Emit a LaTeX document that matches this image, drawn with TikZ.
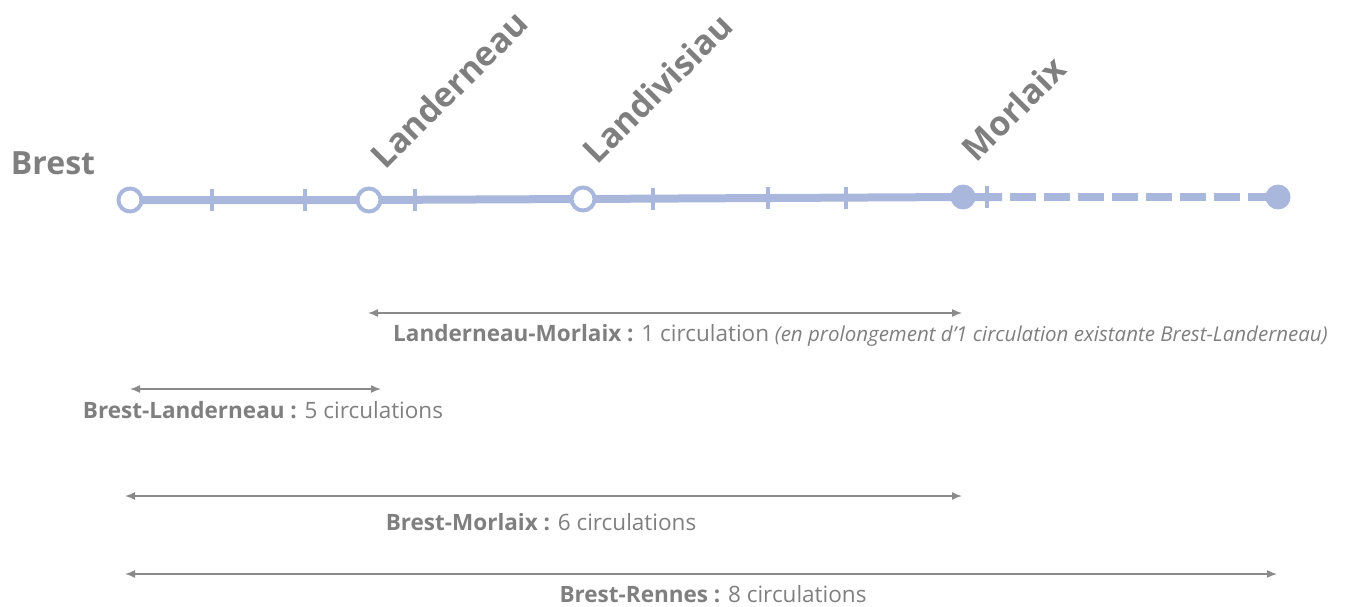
\documentclass[tikz,border=0pt]{standalone}
\usepackage{fontspec}
\setmainfont{Open Sans}
\usepackage{xcolor}
\usetikzlibrary{arrows.meta,backgrounds,positioning}
\definecolor{lineblue}{HTML}{A9B7DD}
\definecolor{txtgray}{HTML}{7F7F7F}
\definecolor{arrgray}{HTML}{8A8A8A}
\tikzset{>=Latex}

\begin{document}
\begin{tikzpicture}[x=1pt,y=-1pt,
openstation/.style={circle, draw=lineblue, fill=white, line width=4pt, minimum size=23pt, inner sep=0pt},
fullstation/.style={circle, fill=lineblue, minimum size=25pt, inner sep=0pt},
stationname/.style={text=txtgray, font=\bfseries\fontsize{34}{38}\selectfont, rotate=45, anchor=south west, inner sep=0pt},
track/.style={draw=lineblue, line width=8pt},
tick/.style={draw=lineblue, line width=4pt},
span/.style={draw=arrgray, line width=1.5pt, {Latex[length=10pt,width=8pt]}-{Latex[length=10pt,width=8pt]}},
spanlabel/.style={text=txtgray, font=\fontsize{22.5}{26}\selectfont, inner sep=0pt},
]
\useasboundingbox (0,0) rectangle (1349,607);

%Nodes
\node[openstation](Brest) at (130,200){};
\node[openstation](Landerneau) at (369,200){};
\node[openstation](Landivisiau) at (583,199){};
\node[fullstation](Morlaix) at (963,197){};
\node[fullstation](Rennes) at (1278,197){};
\coordinate (DashStart) at (1002,197);

\node[text=txtgray, font=\bfseries\fontsize{32}{36}\selectfont](BrestName) at (53,163){Brest};
\node[stationname](LanderneauName) at (386,171){Landerneau};
\node[stationname](LandivisiauName) at (598,166){Landivisiau};
\node[stationname](MorlaixName) at (977,164){Morlaix};

%Lines
\begin{scope}[on background layer]
\draw[track] (Brest.center) -- (Landerneau.center) -- (Landivisiau.center) -- (Morlaix.center) -- (DashStart);
\draw[track, dash pattern=on 26pt off 8pt, dash phase=26pt] (DashStart) -- (Rennes.center);
\foreach \x/\y in {212/200, 305/200, 415/200, 653/199, 768/198, 846/198, 987/197}
  \draw[tick] (\x,\y-11) -- (\x,\y+11);
\end{scope}

%Spans
\coordinate (lmA) at (368,313);
\coordinate (lmB) at (962,313);
\coordinate (blA) at (130,389);
\coordinate (blB) at (381,389);
\coordinate (bmA) at (125,496);
\coordinate (bmB) at (962,496);
\coordinate (brA) at (125,574);
\coordinate (brB) at (1277,574);

\draw[span] (lmA) -- (lmB);
\draw[span] (blA) -- (blB);
\draw[span] (bmA) -- (bmB);
\draw[span] (brA) -- (brB);

\node[spanlabel, anchor=west](lmLabel) at (393,335){\textbf{Landerneau-Morlaix :} 1 circulation {\itshape\fontsize{20.5}{24}\selectfont (en prolongement d’1 circulation existante Brest-Landerneau)}};
\node[spanlabel](blLabel) at (263,410){\textbf{Brest-Landerneau :} 5 circulations};
\node[spanlabel](bmLabel) at (541,522){\textbf{Brest-Morlaix :} 6 circulations};
\node[spanlabel](brLabel) at (713,594){\textbf{Brest-Rennes :} 8 circulations};
\end{tikzpicture}
\end{document}
